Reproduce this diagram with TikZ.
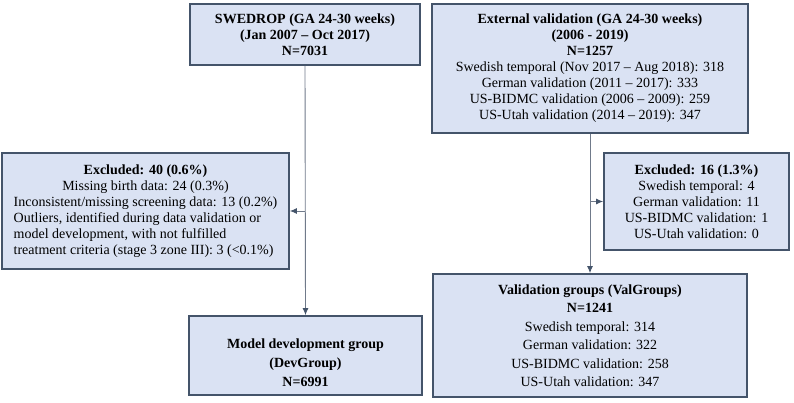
\documentclass[tikz,border=0pt]{standalone}
\usepackage{fontspec}
\setmainfont{Liberation Serif}
\usetikzlibrary{arrows.meta}
\definecolor{boxfill}{RGB}{218,226,243}
\definecolor{boxdraw}{RGB}{68,84,106}
\definecolor{linecol}{RGB}{112,122,138}
\begin{document}
\begin{tikzpicture}[x=1pt,y=-1pt,
  box/.style={draw=boxdraw, line width=1.8pt, fill=boxfill, inner sep=0pt, align=center,
    font=\fontsize{14}{16}\selectfont},
  txt/.style={inner sep=0pt, align=center, font=\fontsize{14}{16}\selectfont},
  conn/.style={draw=linecol, line width=0.9pt, -{Latex[length=7pt,width=6pt,color=boxdraw]}},
  plain/.style={draw=linecol, line width=0.9pt}]
\useasboundingbox (0,0) rectangle (794,403);

\node[box, minimum width=230pt, minimum height=61pt] (swe) at (305,34.5)
  {\textbf{SWEDROP (GA 24-30 weeks)}\\\textbf{(Jan 2007 – Oct 2017)}\\\textbf{N=7031}};

\node[box, minimum width=316pt, minimum height=129pt] (ext) at (590,68.5)
  {\textbf{External validation (GA 24-30 weeks)}\\\textbf{(2006 - 2019)}\\\textbf{N=1257}\\
   Swedish temporal (Nov 2017 – Aug 2018): 318\\
   German validation (2011 – 2017): 333\\
   US-BIDMC validation (2006 – 2009): 259\\
   US-Utah validation (2014 – 2019): 347};

\node[box, minimum width=287pt, minimum height=116pt] (exl) at (145.5,211)
  {\begin{tabular}{@{}l@{}}
   \multicolumn{1}{@{}c@{}}{\textbf{Excluded: 40 (0.6\%)}}\\
   \multicolumn{1}{@{}c@{}}{Missing birth data: 24 (0.3\%)}\\
   Inconsistent/missing screening data: 13 (0.2\%)\\
   Outliers, identified during data validation or\\
   model development, with not fulfilled\\
   treatment criteria (stage 3 zone III): 3 (<0.1\%)
   \end{tabular}};

\node[box, minimum width=185pt, minimum height=97pt] (exr) at (696.5,201.5)
  {\textbf{Excluded: 16 (1.3\%)}\\
   Swedish temporal: 4\\
   German validation: 11\\
   US-BIDMC validation: 1\\
   US-Utah validation: 0};

\node[box, minimum width=233pt, minimum height=79pt] (dev) at (305.5,355.5) {};
\node[txt, font=\fontsize{14}{19}\selectfont] (devt) at (305.5,363)
  {\textbf{Model development group}\\\textbf{(DevGroup)}\\\textbf{N=6991}};

\node[box, minimum width=314pt, minimum height=123pt, font=\fontsize{14}{18.5}\selectfont] (val) at (590,335.5)
  {\textbf{Validation groups (ValGroups)}\\\textbf{N=1241}\\
   Swedish temporal: 314\\
   German validation: 322\\
   US-BIDMC validation: 258\\
   US-Utah validation: 347};

\draw[conn] (swe.south) -- (dev.north);
\draw[conn] (swe.south |- exl.east) -- (exl.east);
\draw[conn] (ext.south) -- (val.north);
\draw[conn] (ext.south |- exr.west) -- (exr.west);
\end{tikzpicture}
\end{document}
